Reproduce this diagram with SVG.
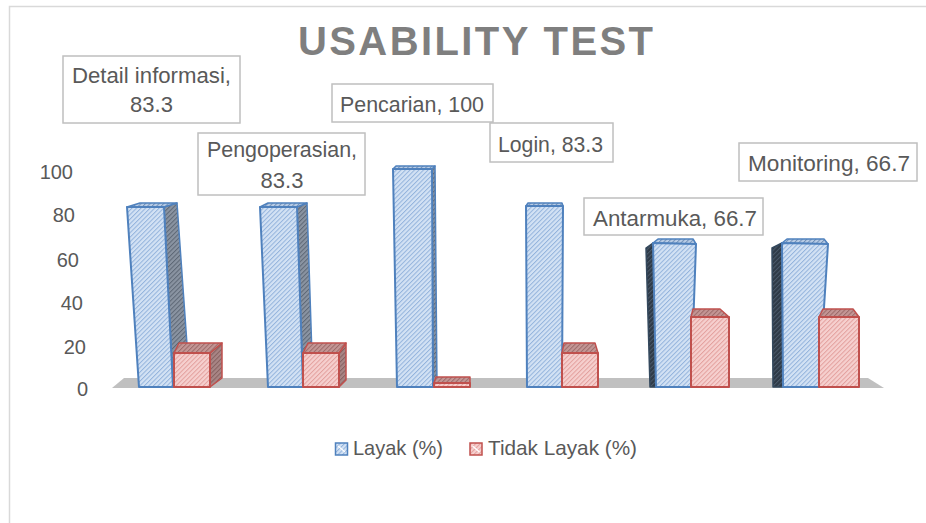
<svg xmlns="http://www.w3.org/2000/svg" width="926" height="523" viewBox="0 0 926 523">
  <style>
    .txt { font-family: "Liberation Sans", Arial, sans-serif; fill: #595959; }
    .lbl { font-size: 22px; }
    .axis { font-size: 20px; text-anchor: end; }
    .leg { font-size: 21px; }
    .title { font-family: "Liberation Sans", Arial, sans-serif; font-size: 40px; font-weight: bold; fill: #7f7f7f; }
    .box { fill: #ffffff; stroke: #bfbfbf; stroke-width: 1.5; }
    .bf { fill: url(#pB); stroke: #4f81bd; stroke-width: 2; stroke-linejoin: round; }
    .bt { fill: url(#pBt); stroke: #4f81bd; stroke-width: 1.5; stroke-linejoin: round; }
    .bs { fill: url(#pBs); stroke: #4f81bd; stroke-width: 1.5; stroke-linejoin: round; }
    .bd { fill: url(#pBd); stroke: #34495e; stroke-width: 1.5; stroke-linejoin: round; }
    .rf { fill: url(#pR); stroke: #c0504d; stroke-width: 2; stroke-linejoin: round; }
    .rt { fill: url(#pRt); stroke: #c0504d; stroke-width: 1.5; stroke-linejoin: round; }
    .rs { fill: url(#pRs); stroke: #c0504d; stroke-width: 1.5; stroke-linejoin: round; }
  </style>
  <defs>
    <pattern id="pB" patternUnits="userSpaceOnUse" width="3.2" height="3.2" patternTransform="rotate(45)">
      <rect width="3.2" height="3.2" fill="#d3e2f4"/>
      <line x1="0.5" y1="0" x2="0.5" y2="3.2" stroke="#93b3dc" stroke-width="1"/>
    </pattern>
    <pattern id="pBt" patternUnits="userSpaceOnUse" width="3.2" height="3.2" patternTransform="rotate(45)">
      <rect width="3.2" height="3.2" fill="#b9cde6"/>
      <line x1="0.5" y1="0" x2="0.5" y2="3.2" stroke="#6f8fb8" stroke-width="1"/>
    </pattern>
    <pattern id="pBs" patternUnits="userSpaceOnUse" width="3.2" height="3.2" patternTransform="rotate(45)">
      <rect width="3.2" height="3.2" fill="#8a94a2"/>
      <line x1="0.5" y1="0" x2="0.5" y2="3.2" stroke="#5d6775" stroke-width="1"/>
    </pattern>
    <pattern id="pBd" patternUnits="userSpaceOnUse" width="3.2" height="3.2" patternTransform="rotate(45)">
      <rect width="3.2" height="3.2" fill="#2e3a47"/>
      <line x1="0.5" y1="0" x2="0.5" y2="3.2" stroke="#4b5a6b" stroke-width="1"/>
    </pattern>
    <pattern id="pR" patternUnits="userSpaceOnUse" width="3.2" height="3.2" patternTransform="rotate(45)">
      <rect width="3.2" height="3.2" fill="#f6d0cf"/>
      <line x1="0.5" y1="0" x2="0.5" y2="3.2" stroke="#e3a09e" stroke-width="1"/>
    </pattern>
    <pattern id="pRt" patternUnits="userSpaceOnUse" width="3.2" height="3.2" patternTransform="rotate(45)">
      <rect width="3.2" height="3.2" fill="#c49695"/>
      <line x1="0.5" y1="0" x2="0.5" y2="3.2" stroke="#9b6a69" stroke-width="1"/>
    </pattern>
    <pattern id="pRs" patternUnits="userSpaceOnUse" width="3.2" height="3.2" patternTransform="rotate(45)">
      <rect width="3.2" height="3.2" fill="#a98686"/>
      <line x1="0.5" y1="0" x2="0.5" y2="3.2" stroke="#85605f" stroke-width="1"/>
    </pattern>
  </defs>

  <rect width="926" height="523" fill="#ffffff"/>

  <!-- chart area frame -->
  <path d="M9.5 523 V6.5 H926" fill="none" stroke="#d9d9d9" stroke-width="1.5"/>

  <!-- title -->
  <text class="title" x="298" y="55" textLength="355">USABILITY TEST</text>

  <!-- value axis -->
  <g id="axis" class="txt axis">
    <text x="73" y="179">100</text>
    <text x="75" y="222">80</text>
    <text x="79" y="267">60</text>
    <text x="83" y="310">40</text>
    <text x="86" y="354">20</text>
    <text x="88" y="396">0</text>
  </g>

  <!-- floor -->
  <polygon id="floor" points="112,388 124,378 868,378 884,388" fill="#c0c0c0"/>

  <!-- Detail informasi -->
  <g id="bar-detail">
    <polygon class="bs" points="164,207 177,203 190,387 173,387"/>
    <polygon class="bt" points="127,207 140,203 177,203 164,207"/>
    <polygon class="bf" points="127,207 164,207 173,387 139,387"/>
    <polygon class="rs" points="210,353 222,343 222,378 210,387"/>
    <polygon class="rt" points="174,353 179,343 222,343 210,353"/>
    <polygon class="rf" points="174,353 210,353 210,387 174,387"/>
  </g>

  <!-- Pengoperasian -->
  <g id="bar-pengoperasian">
    <polygon class="bs" points="297,207 307,203 313,387 303,387"/>
    <polygon class="bt" points="260,207 268,203 307,203 297,207"/>
    <polygon class="bf" points="260,207 297,207 303,387 268,387"/>
    <polygon class="rs" points="339,353 346,343 346,380 339,387"/>
    <polygon class="rt" points="303,353 308,343 346,343 339,353"/>
    <polygon class="rf" points="303,353 339,353 339,387 303,387"/>
  </g>

  <!-- Pencarian -->
  <g id="bar-pencarian">
    <polygon class="bs" points="432,169 435,166 437,387 433,387"/>
    <polygon class="bt" points="393,169 396,166 435,166 432,169"/>
    <polygon class="bf" points="393,169 432,169 433,387 397,387"/>
    <polygon class="rt" points="434,383 436,377 470,377 470,383"/>
    <polygon class="rf" points="434,383 470,383 470,387 434,387"/>
  </g>

  <!-- Login -->
  <g id="bar-login">
    <polygon class="bt" points="526,206 528,203 562,203 563,206"/>
    <polygon class="bf" points="526,206 563,206 562,387 527,387"/>
    <polygon class="rt" points="562,353 564,343 595,343 598,353"/>
    <polygon class="rf" points="562,353 598,353 598,387 562,387"/>
  </g>

  <!-- Antarmuka -->
  <g id="bar-antarmuka">
    <polygon class="bd" points="646,248 653,243 656,387 650,387"/>
    <polygon class="bt" points="653,243 658,239 693,239 696,244"/>
    <polygon class="bf" points="653,243 696,244 691,387 656,387"/>
    <polygon class="rt" points="691,317 693,309 720,309 729,317"/>
    <polygon class="rf" points="691,317 729,317 729,387 691,387"/>
  </g>

  <!-- Monitoring -->
  <g id="bar-monitoring">
    <polygon class="bd" points="772,248 782,243 783,387 773,387"/>
    <polygon class="bt" points="782,243 787,239 824,239 828,244"/>
    <polygon class="bf" points="782,243 828,244 819,387 783,387"/>
    <polygon class="rt" points="819,317 823,309 853,309 859,317"/>
    <polygon class="rf" points="819,317 859,317 859,387 819,387"/>
  </g>

  <!-- data labels -->
  <g id="label-detail">
    <rect class="box" x="63" y="56" width="177" height="67"/>
    <text class="txt lbl" x="72" y="83" textLength="159" lengthAdjust="spacingAndGlyphs">Detail informasi,</text>
    <text class="txt lbl" x="151.5" y="112" text-anchor="middle">83.3</text>
  </g>
  <g id="label-pengoperasian">
    <rect class="box" x="198" y="133" width="167" height="62"/>
    <text class="txt lbl" x="207" y="157" textLength="150" lengthAdjust="spacingAndGlyphs">Pengoperasian,</text>
    <text class="txt lbl" x="282" y="188" text-anchor="middle">83.3</text>
  </g>
  <g id="label-pencarian">
    <rect class="box" x="332" y="84" width="161" height="38"/>
    <text class="txt lbl" x="340" y="112" textLength="144" lengthAdjust="spacingAndGlyphs">Pencarian, 100</text>
  </g>
  <g id="label-login">
    <rect class="box" x="490" y="123" width="123" height="39"/>
    <text class="txt lbl" x="498" y="152" textLength="105" lengthAdjust="spacingAndGlyphs">Login, 83.3</text>
  </g>
  <g id="label-monitoring">
    <rect class="box" x="739" y="143" width="178" height="38"/>
    <text class="txt lbl" x="748" y="171" textLength="162" lengthAdjust="spacingAndGlyphs">Monitoring, 66.7</text>
  </g>
  <g id="label-antarmuka">
    <rect class="box" x="584" y="198" width="179" height="37"/>
    <text class="txt lbl" x="593" y="226" textLength="164" lengthAdjust="spacingAndGlyphs">Antarmuka, 66.7</text>
  </g>

  <!-- legend -->
  <g id="legend">
    <rect x="335.5" y="443" width="12" height="12" fill="url(#pB)" stroke="#4f81bd" stroke-width="1.5"/>
    <line x1="338" y1="446" x2="345" y2="452" stroke="#ffffff" stroke-width="1.2"/>
    <text class="txt leg" x="353" y="455" textLength="90" lengthAdjust="spacingAndGlyphs">Layak (%)</text>
    <rect x="470" y="443" width="12" height="12" fill="url(#pR)" stroke="#c0504d" stroke-width="1.5"/>
    <line x1="472.5" y1="446" x2="479.5" y2="452" stroke="#ffffff" stroke-width="1.2"/>
    <text class="txt leg" x="488" y="455" textLength="149" lengthAdjust="spacingAndGlyphs">Tidak Layak (%)</text>
  </g>
</svg>
